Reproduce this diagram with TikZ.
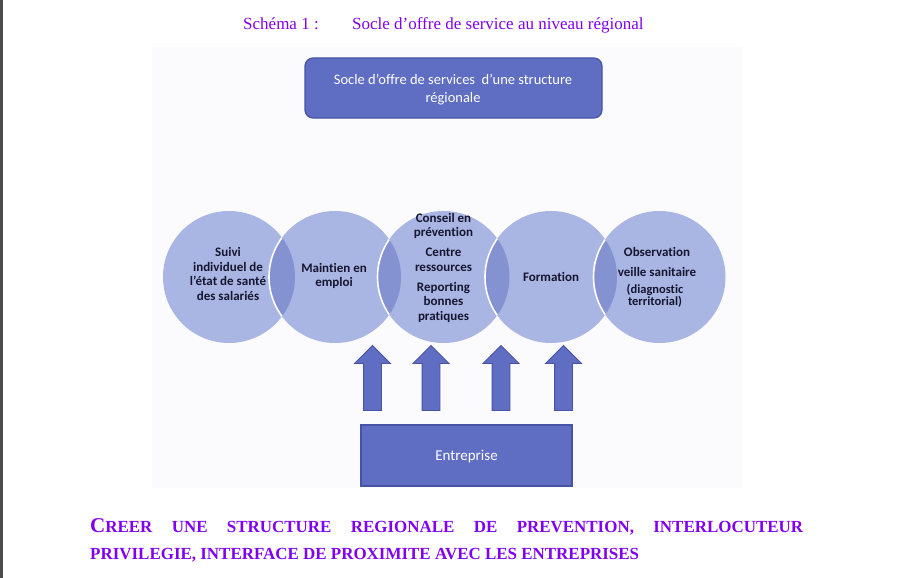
\documentclass[tikz,border=0pt]{standalone}
\usepackage{fontspec}
\setmainfont{Liberation Serif}
\newfontfamily\calfont[Ligatures=NoCommon]{Carlito}
\usetikzlibrary{shapes.arrows}
\definecolor{boxblue}{HTML}{5F6EC3}
\definecolor{boxedge}{HTML}{4853A6}
\definecolor{circfill}{HTML}{A9B5E2}
\definecolor{lensfill}{HTML}{8592D2}
\definecolor{titleviolet}{HTML}{8000F0}
\definecolor{circtext}{HTML}{161630}
\definecolor{bgpanel}{HTML}{FBFBFD}
\definecolor{edgegrey}{HTML}{4D4D4D}
\tikzset{
  circbase/.style={circle, fill=circfill, minimum size=132pt, inner sep=0pt},
  circlabel/.style={align=center, font=\calfont\bfseries\fontsize{13}{14.5}\selectfont, text=circtext, inner sep=0pt},
  smalllabel/.style={align=center, font=\calfont\bfseries\fontsize{12.5}{12}\selectfont, text=circtext, inner sep=0pt},
  bluebox/.style={fill=boxblue, draw=boxedge, line width=1.2pt},
  boxlabel/.style={text=white, font=\calfont\fontsize{14.5}{18}\selectfont, align=center, inner sep=0pt},
  uparrow/.style={single arrow, rotate=90, fill=boxblue, draw=boxedge, line width=0.9pt, minimum height=65pt, minimum width=35pt, single arrow head extend=9pt, inner sep=8.5pt},
  titletext/.style={anchor=base west, inner sep=0pt, text=titleviolet, font=\fontsize{17}{20}\selectfont},
  bottomtext/.style={anchor=base west, inner sep=0pt, text=titleviolet, font=\bfseries\fontsize{16.95}{20}\selectfont},
}
\begin{document}
\begin{tikzpicture}[x=1pt,y=-1pt]
\useasboundingbox (0,0) rectangle (910,578);
\fill[white] (0,0) rectangle (910,578);
\fill[edgegrey] (0,0) rectangle (2.5,578);
\fill[bgpanel] (152,47) rectangle (742,488);

% title
\node[titletext] (tnum) at (243,30) {Schéma 1 :};
\node[titletext] (ttl) at (352,30) {Socle d’offre de service au niveau régional};

% top box
\node[bluebox, rounded corners=8pt, minimum width=297pt, minimum height=60pt] (top) at (453.5,88) {};
\node[boxlabel] (toptxt) at (453,89.5) {Socle d’offre de services\ \ d’une structure\\régionale};

% circles
\node[circbase] (c1) at (229,277) {};
\node[circbase] (c2) at (335,277) {};
\node[circbase] (c3) at (443.5,277) {};
\node[circbase] (c4) at (551,277) {};
\node[circbase] (c5) at (659.5,277) {};
\foreach \a/\b in {229/335,335/443.5,443.5/551,551/659.5}{
  \begin{scope}
    \clip (\a,277) circle (66pt);
    \fill[lensfill] (\b,277) circle (66pt);
    \draw[white, line width=1.6pt] (\b,277) circle (66pt);
  \end{scope}
}
\node[circlabel] (t1) at (228,274) {Suivi\\individuel de\\l’état de santé\\des salariés};
\node[circlabel] (t2) at (334,276) {Maintien en\\emploi};
\node[circlabel] (t3) at (443.5,267.5) {Conseil en\\prévention\\[5.5pt]Centre\\ressources\\[5.5pt]Reporting\\bonnes\\pratiques};
\node[circlabel] (t4) at (551,277) {Formation};
\node[circlabel] (t5) at (657,262) {Observation\\[5.5pt]veille sanitaire};
\node[smalllabel] (t5b) at (655,296) {(diagnostic\\territorial)};

% arrows
\node[uparrow] (a1) at (372.5,382.5) {};
\node[uparrow] (a2) at (431,382.5) {};
\node[uparrow] (a3) at (501,382.5) {};
\node[uparrow] (a4) at (563.5,382.5) {};

% bottom box
\node[bluebox, minimum width=211pt, minimum height=61pt] (ent) at (466.5,455.5) {};
\node[boxlabel, font=\calfont\fontsize{15}{18}\selectfont] (enttxt) at (466.5,457) {Entreprise};

% bottom caption
\node[bottomtext] (cap1) at (90,532) {\makebox[713pt][s]{{\fontsize{21}{21}\selectfont C}REER UNE STRUCTURE REGIONALE DE PREVENTION, INTERLOCUTEUR}};
\node[bottomtext] (cap2) at (90,559) {PRIVILEGIE, INTERFACE DE PROXIMITE AVEC LES ENTREPRISES};
\end{tikzpicture}
\end{document}
